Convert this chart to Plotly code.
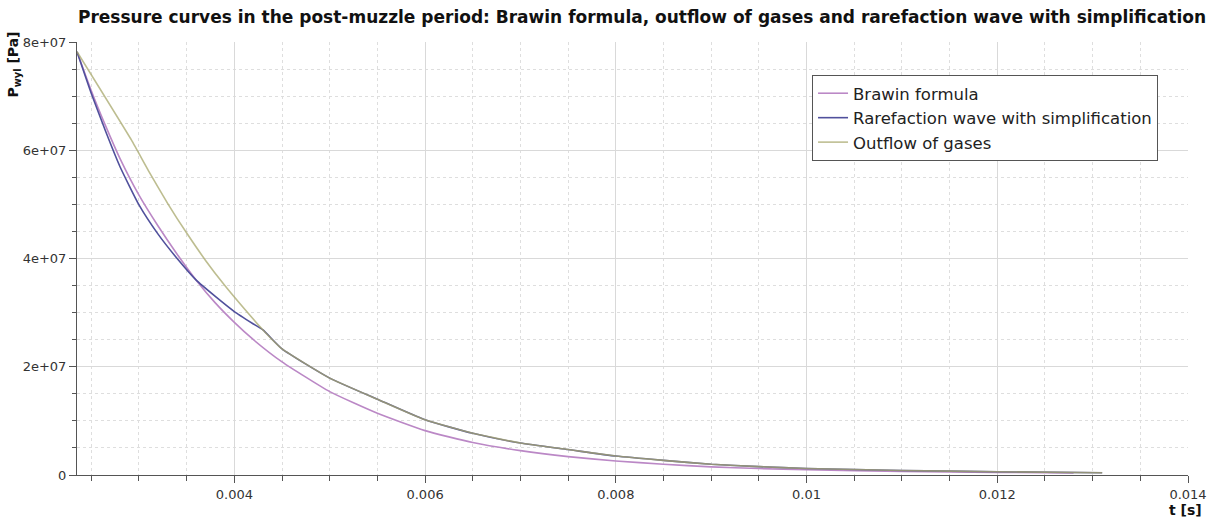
import plotly.graph_objects as go

# --- data ---
t_brawin = [0.00235, 0.0025, 0.00265, 0.0028, 0.0030, 0.0032, 0.0034, 0.0036, 0.0038, 0.0040,
            0.0042, 0.0045, 0.0050, 0.0055, 0.0060, 0.0065, 0.0070, 0.0075, 0.0080, 0.0085,
            0.0090, 0.0095, 0.0100, 0.0110, 0.0120, 0.0128]
p_brawin = [7.82e7, 7.10e7, 6.45e7, 5.85e7, 5.17e7, 4.60e7, 4.08e7, 3.60e7, 3.18e7, 2.82e7,
            2.50e7, 2.09e7, 1.54e7, 1.14e7, 8.2e6, 6.0e6, 4.5e6, 3.4e6, 2.6e6, 2.0e6,
            1.5e6, 1.2e6, 9.6e5, 6.6e5, 4.8e5, 3.8e5]

t_rare = [0.00235, 0.0025, 0.00265, 0.0028, 0.0030, 0.0032, 0.0034, 0.0036, 0.0038, 0.0040,
          0.0042, 0.0043, 0.0045, 0.0050, 0.0055, 0.0060, 0.0065, 0.0070, 0.0075, 0.0080,
          0.0085, 0.0090, 0.0095, 0.0100, 0.0110, 0.0120, 0.0131]
p_rare = [7.82e7, 7.05e7, 6.35e7, 5.70e7, 4.99e7, 4.45e7, 4.00e7, 3.60e7, 3.30e7, 3.02e7,
          2.79e7, 2.68e7, 2.33e7, 1.79e7, 1.40e7, 1.02e7, 7.7e6, 5.9e6, 4.7e6, 3.5e6,
          2.7e6, 2.0e6, 1.55e6, 1.2e6, 8.4e5, 6.0e5, 4.2e5]

t_out = [0.00235, 0.00292, 0.0031, 0.0033, 0.0035, 0.0037, 0.0039, 0.0041, 0.0043, 0.0045,
         0.0050, 0.0055, 0.0060, 0.0065, 0.0070, 0.0075, 0.0080, 0.0085, 0.0090, 0.0095,
         0.0100, 0.0110, 0.0120, 0.0131]
p_out = [7.82e7, 6.19e7, 5.62e7, 5.02e7, 4.47e7, 3.96e7, 3.50e7, 3.08e7, 2.68e7, 2.33e7,
         1.79e7, 1.40e7, 1.02e7, 7.7e6, 5.9e6, 4.7e6, 3.5e6, 2.7e6, 2.0e6, 1.55e6,
         1.2e6, 8.4e5, 6.0e5, 4.2e5]

series_names = ["Brawin formula", "Rarefaction wave with simplification", "Outflow of gases"]
series_colors = ["#bb88c6", "#50509c", "#a8a86c"]

y_tickvals = [0, 2e7, 4e7, 6e7, 8e7]
y_ticktext = ["0", "2e+07", "4e+07", "6e+07", "8e+07"]
x_tickvals = [0.004, 0.006, 0.008, 0.01, 0.012, 0.014]
x_ticktext = ["0.004", "0.006", "0.008", "0.01", "0.012", "0.014"]

title_text = "Pressure curves in the post-muzzle period: Brawin formula, outflow of gases and rarefaction wave with simplification"

FONT = "DejaVu Sans"

fig = go.Figure()
fig.add_trace(go.Scatter(x=t_brawin, y=p_brawin, mode="lines", name=series_names[0],
                         line=dict(color=series_colors[0], width=1.6, shape="spline", smoothing=0.5)))
fig.add_trace(go.Scatter(x=t_rare, y=p_rare, mode="lines", name=series_names[1],
                         line=dict(color=series_colors[1], width=1.6, shape="spline", smoothing=0.5)))
fig.add_trace(go.Scatter(x=t_out, y=p_out, mode="lines", name=series_names[2],
                         line=dict(color=series_colors[2], width=1.6, shape="spline", smoothing=0.4),
                         opacity=0.75))

axis_common = dict(
    showline=True, linecolor="#555555", linewidth=1, automargin=False,
    ticks="outside", tickcolor="#555555", ticklen=7, tickwidth=1,
    showgrid=True, gridcolor="#d9d9d9", gridwidth=1,
    zeroline=False,
    tickfont=dict(family=FONT, size=13, color="#333333"),
)

fig.update_xaxes(
    range=[0.00235, 0.014], tickmode="array", tickvals=x_tickvals, ticktext=x_ticktext,
    minor=dict(tickmode="linear", tick0=0, dtick=0.0005, ticks="outside", ticklen=5,
               tickcolor="#555555", showgrid=True, gridcolor="#dedede", griddash="dot"),
    **axis_common)
fig.update_yaxes(
    range=[0, 8e7], tickmode="array", tickvals=y_tickvals, ticktext=y_ticktext,
    minor=dict(tickmode="linear", tick0=0, dtick=5e6, ticks="outside", ticklen=4,
               tickcolor="#555555", showgrid=True, gridcolor="#dedede", griddash="dot"),
    **axis_common)

fig.update_layout(
    width=1209, height=518,
    margin=dict(l=77, r=21, t=42, b=43),
    paper_bgcolor="white", plot_bgcolor="white",
    title=dict(text="<b>" + title_text + "</b>", x=642 / 1209, xanchor="center",
               y=1 - 17 / 518, yanchor="middle", xref="container", yref="container",
               font=dict(family=FONT, size=17, color="#111111")),
    legend=dict(x=0.6616, y=0.9238, xanchor="left", yanchor="top",
                bgcolor="white", bordercolor="#555555", borderwidth=1,
                font=dict(family=FONT, size=16.5, color="#222222"),
                itemwidth=30, tracegroupgap=0),
    showlegend=True,
    annotations=[
        dict(text="<b>P<sub>wyl</sub> [Pa]</b>", xref="paper", yref="paper",
             x=-0.057, y=1.028, xanchor="center", yanchor="top", textangle=-90,
             showarrow=False, font=dict(family=FONT, size=14, color="#111111")),
        dict(text="<b>t [s]</b>", xref="paper", yref="paper",
             x=1.0144, y=-0.058, xanchor="right", yanchor="top",
             showarrow=False, font=dict(family=FONT, size=14, color="#111111")),
    ],
)

fig.write_html("out.html")
